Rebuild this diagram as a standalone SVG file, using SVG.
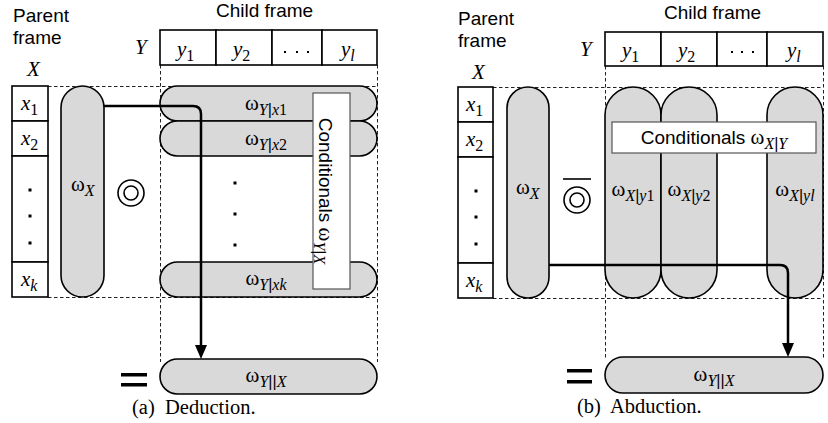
<svg xmlns="http://www.w3.org/2000/svg" width="828" height="423" viewBox="0 0 828 423">
<defs>
<style>
.pill{fill:#d9d9d9;stroke:#000;stroke-width:1.6}
.box{fill:#fff;stroke:#000;stroke-width:1.6}
.cbox{fill:#fff;stroke:#555;stroke-width:1.2}
.dash{stroke:#222;stroke-width:1;stroke-dasharray:3.5,2.5;fill:none}
.sans{font-family:"Liberation Sans",Arial,sans-serif;font-size:19px;fill:#000}
.math{font-family:"Liberation Serif","Times New Roman",serif;font-size:21px;fill:#000}
.it{font-style:italic}
.sub{font-size:16px}
.cap{font-family:"Liberation Serif","Times New Roman",serif;font-size:20.5px;fill:#000}
.arrow{stroke:#000;stroke-width:2.5;fill:none}
.dot{fill:#000}
.sym{fill:none;stroke:#000;stroke-width:1.6}
</style>
</defs>

<!-- ===== (a) Deduction ===== -->
<g id="a-labels">
<text class="sans" x="13" y="22">Parent</text>
<text class="sans" x="13" y="44">frame</text>
<text class="math it" x="27" y="76">X</text>
<text class="sans" x="216" y="17">Child frame</text>
<text class="math it" x="135" y="54">Y</text>
</g>
<g id="a-dashed">
<path class="dash" d="M48,86.5 H377 M48,297.5 H377 M160.5,65 V362 M377.5,65 V362"/>
</g>
<g id="a-xframe">
<rect class="box" x="12" y="86" width="36" height="35"/>
<rect class="box" x="12" y="121" width="36" height="35"/>
<rect class="box" x="12" y="156" width="36" height="106"/>
<rect class="box" x="12" y="262" width="36" height="35"/>
<text class="math it" x="21" y="110">x<tspan class="sub" font-style="normal" dy="5">1</tspan></text>
<text class="math it" x="21" y="145">x<tspan class="sub" font-style="normal" dy="5">2</tspan></text>
<text class="math it" x="21" y="286">x<tspan class="sub" dy="5">k</tspan></text>
<rect class="dot" x="28.5" y="188.5" width="3" height="3"/>
<rect class="dot" x="28.5" y="214.5" width="3" height="3"/>
<rect class="dot" x="28.5" y="241.5" width="3" height="3"/>
</g>
<g id="a-yframe">
<rect class="box" x="160" y="30" width="56" height="35"/>
<rect class="box" x="216" y="30" width="56" height="35"/>
<rect class="box" x="272" y="30" width="50" height="35"/>
<rect class="box" x="322" y="30" width="55" height="35"/>
<text class="math it" x="177" y="56">y<tspan class="sub" font-style="normal" dy="5">1</tspan></text>
<text class="math it" x="233" y="56">y<tspan class="sub" font-style="normal" dy="5">2</tspan></text>
<rect class="dot" x="284" y="51" width="2" height="2"/>
<rect class="dot" x="296" y="51" width="2" height="2"/>
<rect class="dot" x="307" y="51" width="2" height="2"/>
<text class="math it" x="341" y="56">y<tspan class="sub" dy="5">l</tspan></text>
</g>
<g id="a-omegaX">
<rect class="pill" x="61" y="86" width="43" height="211" rx="21.5"/>
<text class="math" x="71" y="191">ω<tspan class="sub it" dy="5">X</tspan></text>
</g>
<g id="a-op">
<circle class="sym" cx="131" cy="193" r="13"/>
<circle class="sym" cx="131" cy="193" r="7"/>
</g>
<g id="a-cond1">
<rect class="pill" x="160" y="86" width="217" height="35" rx="17.5"/>
<text class="math" x="266" y="110" text-anchor="middle">ω<tspan class="sub it" dy="5">Y</tspan><tspan class="sub" font-family="Liberation Sans">|</tspan><tspan class="sub it">x</tspan><tspan class="sub">1</tspan></text>
</g>
<g id="a-cond2">
<rect class="pill" x="160" y="121" width="217" height="35" rx="17.5"/>
<text class="math" x="266" y="145" text-anchor="middle">ω<tspan class="sub it" dy="5">Y</tspan><tspan class="sub" font-family="Liberation Sans">|</tspan><tspan class="sub it">x</tspan><tspan class="sub">2</tspan></text>
</g>
<g id="a-condk">
<rect class="pill" x="160" y="262" width="217" height="35" rx="17.5"/>
<text class="math" x="266" y="285" text-anchor="middle">ω<tspan class="sub it" dy="5">Y</tspan><tspan class="sub" font-family="Liberation Sans">|</tspan><tspan class="sub it">xk</tspan></text>
</g>
<g id="a-middots">
<rect class="dot" x="233.5" y="181.5" width="3" height="3"/>
<rect class="dot" x="233.5" y="212.5" width="3" height="3"/>
<rect class="dot" x="233.5" y="243.5" width="3" height="3"/>
</g>
<g id="a-condbox">
<rect class="cbox" x="313" y="93" width="37" height="196"/>
<text class="sans" transform="translate(319,191) rotate(90)" text-anchor="middle">Conditionals <tspan font-family="Liberation Serif" font-size="21">ω</tspan><tspan class="math sub it" dy="5">Y</tspan><tspan class="sub">|</tspan><tspan class="math sub it">X</tspan></text>
</g>
<g id="a-result">
<rect class="pill" x="160" y="359" width="217" height="35" rx="17.5"/>
<text class="math" x="266" y="382" text-anchor="middle">ω<tspan class="sub it" dy="5">Y</tspan><tspan class="sub" font-family="Liberation Sans">||</tspan><tspan class="sub it">X</tspan></text>
</g>
<g id="a-eq">
<rect x="121" y="373" width="26" height="3.5" fill="#000"/>
<rect x="121" y="383" width="26" height="3.5" fill="#000"/>
</g>
<g id="a-connectors">
<path class="arrow" d="M104,106 H193 Q201,106 201,114 V346"/>
<path d="M195,345 L207,345 L201,359 Z" fill="#000"/>
</g>
<text class="cap" x="132" y="414" xml:space="preserve">(a)  Deduction.</text>

<!-- ===== (b) Abduction ===== -->
<g id="b-labels">
<text class="sans" x="458" y="25">Parent</text>
<text class="sans" x="458" y="47">frame</text>
<text class="math it" x="472" y="79">X</text>
<text class="sans" x="664" y="19">Child frame</text>
<text class="math it" x="580" y="56">Y</text>
</g>
<g id="b-dashed">
<path class="dash" d="M493,87.5 H823 M493,298.5 H823 M605.5,66 V360 M823.5,66 V360"/>
</g>
<g id="b-xframe">
<rect class="box" x="458" y="87" width="35" height="35"/>
<rect class="box" x="458" y="122" width="35" height="35"/>
<rect class="box" x="458" y="157" width="35" height="106"/>
<rect class="box" x="458" y="263" width="35" height="35"/>
<text class="math it" x="466" y="111">x<tspan class="sub" font-style="normal" dy="5">1</tspan></text>
<text class="math it" x="466" y="146">x<tspan class="sub" font-style="normal" dy="5">2</tspan></text>
<text class="math it" x="466" y="287">x<tspan class="sub" dy="5">k</tspan></text>
<rect class="dot" x="474.5" y="189.5" width="3" height="3"/>
<rect class="dot" x="474.5" y="215.5" width="3" height="3"/>
<rect class="dot" x="474.5" y="242.5" width="3" height="3"/>
</g>
<g id="b-yframe">
<rect class="box" x="605" y="32" width="56" height="34"/>
<rect class="box" x="661" y="32" width="56" height="34"/>
<rect class="box" x="717" y="32" width="50" height="34"/>
<rect class="box" x="767" y="32" width="56" height="34"/>
<text class="math it" x="622" y="57">y<tspan class="sub" font-style="normal" dy="5">1</tspan></text>
<text class="math it" x="678" y="57">y<tspan class="sub" font-style="normal" dy="5">2</tspan></text>
<rect class="dot" x="731" y="51" width="2" height="2"/>
<rect class="dot" x="741" y="51" width="2" height="2"/>
<rect class="dot" x="752" y="51" width="2" height="2"/>
<text class="math it" x="787" y="57">y<tspan class="sub" dy="5">l</tspan></text>
</g>
<g id="b-omegaX">
<rect class="pill" x="507" y="87" width="42" height="211" rx="21"/>
<text class="math" x="516" y="194">ω<tspan class="sub it" dy="5">X</tspan></text>
</g>
<g id="b-op">
<line x1="563" y1="179" x2="591" y2="179" stroke="#000" stroke-width="1.6"/>
<circle class="sym" cx="577" cy="200" r="13"/>
<circle class="sym" cx="577" cy="200" r="7"/>
</g>
<g id="b-cond1">
<rect class="pill" x="605" y="87" width="56" height="211" rx="28"/>
<text class="math" x="633" y="196" text-anchor="middle">ω<tspan class="sub it" dy="5">X</tspan><tspan class="sub" font-family="Liberation Sans">|</tspan><tspan class="sub it">y</tspan><tspan class="sub">1</tspan></text>
</g>
<g id="b-cond2">
<rect class="pill" x="661" y="87" width="56" height="211" rx="28"/>
<text class="math" x="689" y="196" text-anchor="middle">ω<tspan class="sub it" dy="5">X</tspan><tspan class="sub" font-family="Liberation Sans">|</tspan><tspan class="sub it">y</tspan><tspan class="sub">2</tspan></text>
</g>
<g id="b-condl">
<rect class="pill" x="767" y="87" width="56" height="211" rx="28"/>
<text class="math" x="795" y="196" text-anchor="middle">ω<tspan class="sub it" dy="5">X</tspan><tspan class="sub" font-family="Liberation Sans">|</tspan><tspan class="sub it">yl</tspan></text>
</g>
<g id="b-condbox">
<rect class="cbox" x="612" y="122" width="204" height="31"/>
<text class="sans" x="714" y="144" text-anchor="middle">Conditionals <tspan font-family="Liberation Serif" font-size="21">ω</tspan><tspan class="math sub it" dy="5">X</tspan><tspan class="sub">|</tspan><tspan class="math sub it">Y</tspan></text>
</g>
<g id="b-result">
<rect class="pill" x="605" y="357" width="218" height="36" rx="18"/>
<text class="math" x="714" y="381" text-anchor="middle">ω<tspan class="sub it" dy="5">Y</tspan><tspan class="sub" font-family="Liberation Sans">||</tspan><tspan class="sub it">X</tspan></text>
</g>
<g id="b-eq">
<rect x="567" y="369" width="25" height="3.5" fill="#000"/>
<rect x="567" y="380" width="25" height="3.5" fill="#000"/>
</g>
<g id="b-connectors">
<path class="arrow" d="M549,265 H780 Q788,265 788,273 V344"/>
<path d="M782,343 L794,343 L788,357 Z" fill="#000"/>
</g>
<text class="cap" x="577" y="413" xml:space="preserve">(b)  Abduction.</text>
</svg>
